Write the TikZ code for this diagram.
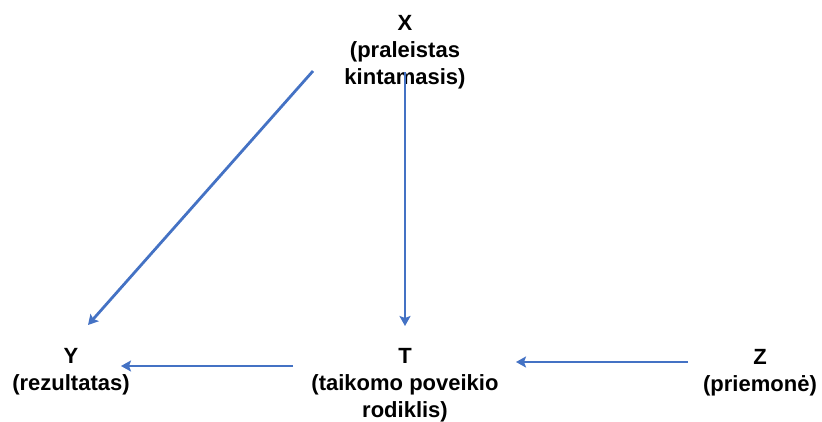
\documentclass[tikz,border=0pt]{standalone}
\usepackage{fontspec}
\setmainfont{Liberation Sans}
\usetikzlibrary{arrows.meta}
\definecolor{arrowblue}{HTML}{4472C4}
\begin{document}
\begin{tikzpicture}[x=1pt,y=-1pt,
  lbl/.style={align=center,font=\fontsize{22}{27}\selectfont\bfseries,inner sep=0pt,anchor=north},
  link/.style={draw=arrowblue,line width=2.8pt,-{Stealth[length=10pt,width=11pt,inset=2pt]}}]
\useasboundingbox (0,0) rectangle (822,421);
\node[lbl] (X) at (405,15) {X\\(praleistas\\kintamasis)};
\node[lbl] (Y) at (71,348) {Y\\(rezultatas)};
\node[lbl] (T) at (405,348) {T\\(taikomo poveikio\\rodiklis)};
\node[lbl] (Z) at (760,349) {Z\\(priemonė)};
\coordinate (xa) at (313,71);
\coordinate (ya) at (88,325);
\coordinate (xb) at (405,72);
\coordinate (tb) at (405,326);
\coordinate (tc) at (293,366);
\coordinate (yc) at (121,366);
\coordinate (zd) at (688,362);
\coordinate (td) at (516,362);
\draw[link] (xa) -- (ya);
\draw[link] (xb) -- (tb);
\draw[link] (tc) -- (yc);
\draw[link] (zd) -- (td);
\end{tikzpicture}
\end{document}
